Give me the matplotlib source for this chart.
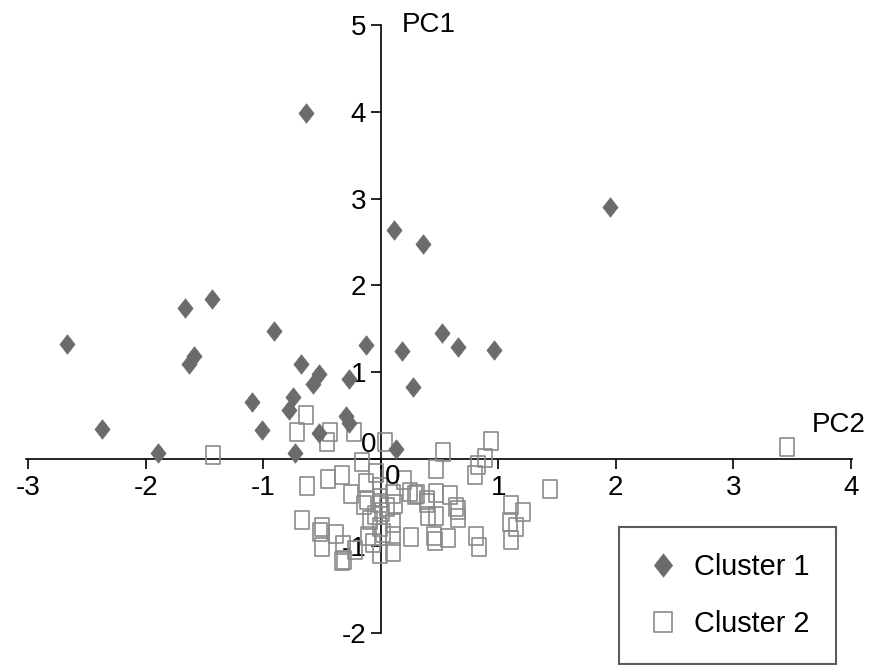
import matplotlib
matplotlib.use('Agg')
import matplotlib.pyplot as plt
import numpy as np
from matplotlib.path import Path
from matplotlib.ticker import FuncFormatter

plt.rcParams['font.family'] = ['Liberation Sans', 'DejaVu Sans']
plt.rcParams['axes.unicode_minus'] = False

# Cluster 1 (filled diamonds): PC2 on x, PC1 on y
c1_x = [-0.64, 1.95, 0.11, 0.36, -1.44, -1.67, -0.91, 0.52, -2.67, -0.13,
        0.66, 0.96, 0.18, -1.59, -1.63, -0.68, -0.53, -0.58, -0.27, 0.27,
        -0.75, -1.10, -0.78, -0.30, -0.27, -2.37, -1.01, -0.53, 0.13, -1.90,
        -0.73]
c1_y = [3.99, 2.90, 2.64, 2.48, 1.84, 1.74, 1.47, 1.45, 1.33, 1.31,
        1.29, 1.26, 1.24, 1.19, 1.10, 1.10, 0.98, 0.86, 0.92, 0.83,
        0.71, 0.66, 0.56, 0.50, 0.42, 0.35, 0.33, 0.30, 0.11, 0.07,
        0.07]

# Cluster 2 (open squares)
c2_x = [-1.43, -0.64, -0.71, -0.43, -0.46, -0.23, 0.04, -0.16, 0.53, 0.94,
        0.89, 0.80, 0.47, 1.44, -0.63, -0.45, -0.33, -0.25, -0.13, -0.04,
        0.20, 0.10, 0.31, 0.47, 0.59, -0.14, -0.01, 0.39, 0.66, 0.40,
        0.47, 0.66, 1.11, 1.21, 1.10, 1.15, 1.11, 0.81, 0.84, 0.57,
        0.45, 0.46, 0.26, -0.67, -0.50, -0.52, -0.38, -0.50, -0.32, -0.31,
        -0.33, -0.22, -0.11, -0.07, -0.09, 0.10, 0.10, 0.10, -0.01, -0.01,
        0.01, -0.01, 0.25, 3.46, 0.83, 0.29, 0.39, 0.64, -0.12, -0.01,
        0.12, 0.02, -0.05, 0.05]
c2_y = [0.05, 0.51, 0.31, 0.31, 0.20, 0.31, 0.20, -0.03, 0.08, 0.21,
        0.01, -0.18, -0.11, -0.35, -0.31, -0.23, -0.18, -0.40, -0.28, -0.16,
        -0.24, -0.40, -0.40, -0.39, -0.41, -0.53, -0.51, -0.51, -0.59, -0.66,
        -0.66, -0.68, -0.53, -0.61, -0.72, -0.78, -0.93, -0.89, -1.01, -0.91,
        -0.89, -0.95, -0.90, -0.70, -0.78, -0.84, -0.86, -1.01, -0.99, -1.16,
        -1.18, -1.05, -0.89, -0.97, -0.70, -0.74, -0.89, -1.07, -1.09, -0.78,
        -0.61, -0.32, -0.38, 0.14, -0.07, -0.41, -0.47, -0.55, -0.47, -0.45,
        -0.52, -0.85, -0.65, -0.55]

x_ticks = [-3, -2, -1, 0, 1, 2, 3, 4]
y_ticks = [-2, -1, 0, 1, 2, 3, 4, 5]

# slightly tall markers, as in the original picture
diamond = Path([(0, -0.5), (0.39, 0), (0, 0.5), (-0.39, 0), (0, -0.5)],
               [Path.MOVETO, Path.LINETO, Path.LINETO, Path.LINETO, Path.CLOSEPOLY])
rect = Path([(-0.41, -0.5), (0.41, -0.5), (0.41, 0.5), (-0.41, 0.5), (-0.41, -0.5)],
            [Path.MOVETO, Path.LINETO, Path.LINETO, Path.LINETO, Path.CLOSEPOLY])

fig = plt.figure(figsize=(8.73, 6.65), dpi=100)
ax = fig.add_axes([0.0298, 0.0487, 0.946, 0.9137])

h2, = ax.plot(c2_x, c2_y, linestyle='none', marker=rect, markersize=12.5,
              markerfacecolor='none', markeredgecolor='#8a8a8a', markeredgewidth=1.2,
              label='Cluster 2', zorder=3)
h1, = ax.plot(c1_x, c1_y, linestyle='none', marker=diamond, markersize=14,
              markerfacecolor='#6b6b6b', markeredgecolor='#6b6b6b', markeredgewidth=0.5,
              label='Cluster 1', zorder=4)

ax.set_xlim(-3.02, 4.01)
ax.set_ylim(-2, 5)

ax.spines['right'].set_color('none')
ax.spines['top'].set_color('none')
ax.spines['left'].set_position(('data', 0))
ax.spines['bottom'].set_position(('data', 0))
ax.spines['left'].set_linewidth(1.2)
ax.spines['bottom'].set_linewidth(1.2)

ax.set_xticks(x_ticks)
ax.set_yticks(y_ticks)
nozero = FuncFormatter(lambda v, p: '' if v == 0 else '%d' % v)
ax.xaxis.set_major_formatter(nozero)
ax.yaxis.set_major_formatter(nozero)
ax.tick_params(direction='out', length=7.5, width=1.2, labelsize=20)
ax.tick_params(axis='x', pad=4)
ax.tick_params(axis='y', pad=3)

# the two zeros next to the origin
ax.text(-0.034, 0.16, '0', fontsize=20, ha='right', va='center')
ax.text(0.098, -0.21, '0', fontsize=20, ha='center', va='center')

ax.text(0.18, 5.0, 'PC1', fontsize=20, ha='left', va='center')
ax.text(4.13, 0.39, 'PC2', fontsize=20, ha='right', va='center')

leg = fig.legend([h1, h2], ['Cluster 1', 'Cluster 2'], loc='lower right',
                 bbox_to_anchor=(836 / 873, 1 / 665), fontsize=20.8, frameon=True,
                 fancybox=False, edgecolor='#333333', labelspacing=1.0,
                 handletextpad=0.5, borderpad=0.9, borderaxespad=0,
                 markerscale=1.2, handlelength=1.2)
leg.get_frame().set_linewidth(1.5)

fig.savefig('out.png', dpi=100)
